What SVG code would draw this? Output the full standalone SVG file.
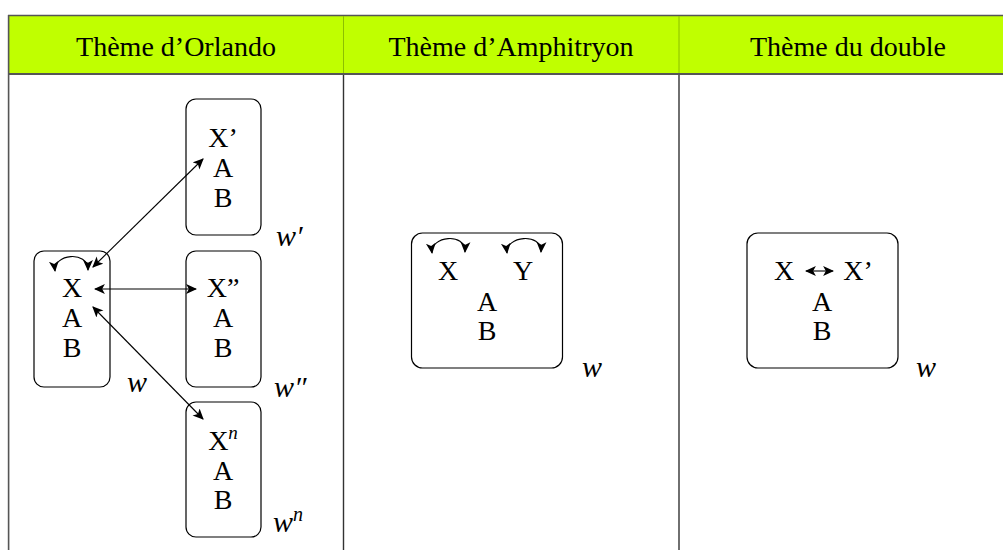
<svg xmlns="http://www.w3.org/2000/svg" width="1003" height="550" viewBox="0 0 1003 550" font-family="'Liberation Serif', 'DejaVu Serif', serif">
<style>
text{font-family:'Liberation Serif','DejaVu Serif',serif}
.t{font-size:28px;fill:#000;text-anchor:middle}
.h{font-size:28px;fill:#000;text-anchor:middle}
.w{font-size:30px;font-style:italic;fill:#000}
.box{fill:none;stroke:#000;stroke-width:1.2}
.c{fill:none;stroke:#000;stroke-width:1.1}
</style>
<defs>
<marker id="ah" viewBox="0 0 10 10" refX="9" refY="5" markerWidth="11" markerHeight="11" markerUnits="userSpaceOnUse" orient="auto-start-reverse">
<path d="M0,0.5 L10,5 L0,9.5 L2.5,5 Z" fill="#000"/>
</marker>
</defs>
<rect x="0" y="0" width="1003" height="550" fill="#fff"/>
<g id="table">
<rect x="8" y="15" width="995" height="59" fill="#c0ff00"/>
<line x1="8" y1="15.5" x2="1003" y2="15.5" stroke="#555" stroke-width="1.5"/>
<line x1="8" y1="74" x2="1003" y2="74" stroke="#555" stroke-width="2"/>
<line x1="8.6" y1="15" x2="8.6" y2="550" stroke="#555" stroke-width="1.6"/>
<line x1="343.5" y1="16" x2="343.5" y2="73" stroke="#8cc000" stroke-width="1"/>
<line x1="679" y1="16" x2="679" y2="73" stroke="#8cc000" stroke-width="1"/>
<line x1="343.5" y1="75" x2="343.5" y2="550" stroke="#333" stroke-width="1.4"/>
<line x1="679" y1="75" x2="679" y2="550" stroke="#333" stroke-width="1.4"/>
<text class="h" x="176" y="56">Thème d’Orlando</text>
<text class="h" x="511" y="56">Thème d’Amphitryon</text>
<text class="h" x="848" y="56">Thème du double</text>
</g>
<g id="node-w">
<rect class="box" x="34" y="251" width="76" height="136" rx="10"/>
<text class="t" x="72" y="297">X</text>
<text class="t" x="72" y="327">A</text>
<text class="t" x="72" y="357">B</text>
<text class="w" x="127" y="392">w</text>
</g>
<g id="node-w1">
<rect class="box" x="186" y="99" width="75" height="136" rx="10"/>
<text class="t" x="223" y="147">X’</text>
<text class="t" x="223" y="177">A</text>
<text class="t" x="223" y="207">B</text>
<text class="w" x="276" y="246">w′</text>
</g>
<g id="node-w2">
<rect class="box" x="186" y="251" width="75" height="136" rx="10"/>
<text class="t" x="223" y="297">X”</text>
<text class="t" x="223" y="327">A</text>
<text class="t" x="223" y="357">B</text>
<text class="w" x="274" y="397">w″</text>
</g>
<g id="node-wn">
<rect class="box" x="186" y="402" width="75" height="135" rx="10"/>
<text class="t" x="223" y="450">X<tspan font-style="italic" font-size="19" dy="-11">n</tspan></text>
<text class="t" x="223" y="480">A</text>
<text class="t" x="223" y="509">B</text>
<text class="w" x="273" y="532">w<tspan font-size="20" dy="-11">n</tspan></text>
</g>
<g id="node-amph">
<rect class="box" x="411.5" y="233" width="151" height="135" rx="11"/>
<text class="t" x="448" y="280">X</text>
<text class="t" x="523" y="280">Y</text>
<text class="t" x="487" y="311">A</text>
<text class="t" x="487" y="340">B</text>
<text class="w" x="582" y="377">w</text>
</g>
<g id="node-double">
<rect class="box" x="747" y="233" width="151" height="135" rx="11"/>
<text class="t" x="784" y="280">X</text>
<text class="t" x="858" y="280">X’</text>
<text class="t" x="822" y="311">A</text>
<text class="t" x="822" y="340">B</text>
<text class="w" x="916" y="377">w</text>
</g>
<g id="connectors">
<path class="c" d="M55,271 C53,254 88,250 88,270" marker-start="url(#ah)" marker-end="url(#ah)"/>
<line class="c" x1="93" y1="267" x2="203" y2="159" marker-start="url(#ah)" marker-end="url(#ah)"/>
<line class="c" x1="95" y1="289" x2="196" y2="289" marker-start="url(#ah)" marker-end="url(#ah)"/>
<line class="c" x1="93" y1="307" x2="203" y2="419" marker-start="url(#ah)" marker-end="url(#ah)"/>
<path class="c" d="M432,253 C430,236 466,232 465,252" marker-start="url(#ah)" marker-end="url(#ah)"/>
<path class="c" d="M507,253 C505,236 542,232 541,252" marker-start="url(#ah)" marker-end="url(#ah)"/>
<line class="c" x1="806" y1="271" x2="833" y2="271" marker-start="url(#ah)" marker-end="url(#ah)"/>
</g>
</svg>
